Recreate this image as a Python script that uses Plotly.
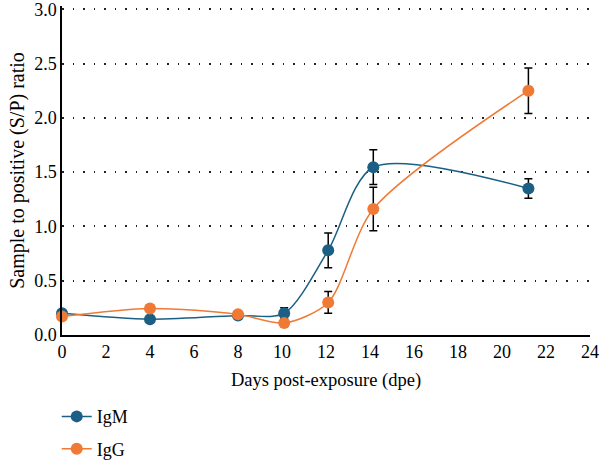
import plotly.graph_objects as go

days_igm = [0, 4, 8, 10.1, 12.1, 14.15, 21.2]
igm = [0.20, 0.145, 0.18, 0.20, 0.78, 1.545, 1.35]
igm_err = [0.02, 0.02, 0.02, 0.05, 0.16, 0.16, 0.09]

days_igg = [0, 4, 8, 10.1, 12.1, 14.15, 21.2]
igg = [0.17, 0.245, 0.19, 0.11, 0.30, 1.16, 2.25]
igg_err = [0.02, 0.02, 0.03, 0.03, 0.10, 0.20, 0.21]

x_ticks = list(range(0, 25, 2))
y_ticks = [0.0, 0.5, 1.0, 1.5, 2.0, 2.5, 3.0]

blue = "#1b5f84"
orange = "#ee7a35"
font = "Liberation Serif"

fig = go.Figure()
for name, xs, ys, es, col in [("IgM", days_igm, igm, igm_err, blue),
                              ("IgG", days_igg, igg, igg_err, orange)]:
    fig.add_trace(go.Scatter(
        x=xs, y=ys, name=name, mode="lines+markers", legendgroup=name,
        line=dict(color=col, width=1.5, shape="spline", smoothing=0.8),
        marker=dict(color=col, size=12),
        error_y=dict(type="data", array=es, color="black", thickness=1.5, width=4),
        cliponaxis=False,
    ))

fig.update_layout(
    width=600, height=463,
    margin=dict(l=62, r=10, t=6, b=128),
    paper_bgcolor="white", plot_bgcolor="white",
    font=dict(family=font, size=17, color="black"),
    showlegend=True,
    legend=dict(x=-0.01, xref="paper", y=0.14, yref="container",
                xanchor="left", yanchor="top",
                orientation="v", tracegroupgap=6, font=dict(size=18),
                bgcolor="rgba(0,0,0,0)"),
    xaxis=dict(range=[0, 24], tickvals=x_ticks, showgrid=False, zeroline=False,
               showline=True, linecolor="black", linewidth=1.5, ticks="",
               automargin=False, ticklabeloverflow="allow",
               title=dict(text="Days post-exposure (dpe)", standoff=12, font=dict(size=18.5)),
               tickfont=dict(size=18)),
    yaxis=dict(range=[0, 3.03], tickvals=y_ticks, tickformat=".1f",
               showgrid=True, gridcolor="#222222", griddash="1.5px,9px", gridwidth=1.5,
               zeroline=False, showline=True, linecolor="black", linewidth=1.5,
               ticks="", automargin=False, ticklabeloverflow="allow",
               title=dict(text="Sample to positive (S/P) ratio", standoff=4, font=dict(size=20)),
               tickfont=dict(size=18)),
)

fig.write_html("out.html")
